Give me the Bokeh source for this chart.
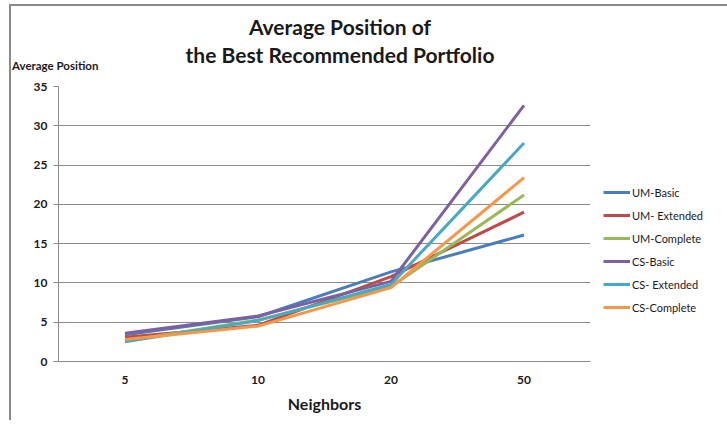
from bokeh.plotting import figure
from bokeh.layouts import column
from bokeh.models import FactorRange, Range1d, Legend, LegendItem, FixedTicker, Div
from bokeh.embed import file_html
from bokeh.resources import INLINE

# Number of neighbors (category axis)
neighbors = ["5", "10", "20", "50"]

# Average position of the best recommended portfolio per method
um_basic = [3.4, 5.7, 11.4, 16.1]
um_extended = [3.1, 4.6, 10.8, 19.0]
um_complete = [2.6, 5.3, 9.5, 21.2]
cs_basic = [3.6, 5.8, 10.2, 32.6]
cs_extended = [2.5, 5.2, 9.8, 27.8]
cs_complete = [2.8, 4.5, 9.4, 23.4]

series_names = ["UM-Basic", "UM- Extended", "UM-Complete", "CS-Basic", "CS- Extended", "CS-Complete"]
series_values = [um_basic, um_extended, um_complete, cs_basic, cs_extended, cs_complete]
series_colors = ["#4A7EBB", "#BE4B48", "#98B954", "#7D60A0", "#46AAC5", "#F79646"]

y_ticks = [0, 5, 10, 15, 20, 25, 30, 35]

title_lines = ["Average Position of", "the Best Recommended Portfolio"]
y_caption = "Average Position"

FONT = "Lato"
TEXT_COLOR = "#1a1a1a"

# header block: two-line title and the caption above the value axis
header_html = f"""
<div style="position:relative;width:716px;height:70px;font-family:{FONT};font-weight:bold;color:{TEXT_COLOR};">
  <div style="position:absolute;left:329px;top:21px;transform:translate(-50%,-50%);white-space:nowrap;font-size:21px;">{title_lines[0]}</div>
  <div style="position:absolute;left:329px;top:49px;transform:translate(-50%,-50%);white-space:nowrap;font-size:21px;">{title_lines[1]}</div>
  <div style="position:absolute;left:1px;top:60px;transform:translate(0,-50%);white-space:nowrap;font-size:11.5px;">{y_caption}</div>
</div>
"""
header = Div(text=header_html, width=716, height=70, margin=0)

p = figure(
    x_range=FactorRange(*neighbors, range_padding=0),
    y_range=Range1d(0, 35),
    frame_width=532, frame_height=275,
    min_border_left=47, min_border_right=137,
    min_border_top=10, min_border_bottom=59,
    output_backend="svg", toolbar_location=None,
    margin=0,
)
p.outline_line_color = None
p.background_fill_color = "white"
p.border_fill_color = "white"

# grid
p.xgrid.grid_line_color = None
p.ygrid.grid_line_color = "#8a8a8a"
p.ygrid.grid_line_width = 1
p.yaxis.ticker = FixedTicker(ticks=y_ticks)

# value axis
p.yaxis.axis_line_color = "#8a8a8a"
p.yaxis.major_tick_line_color = "#8a8a8a"
p.yaxis.major_tick_out = 5
p.yaxis.major_tick_in = 0
p.yaxis.minor_tick_line_color = None
p.yaxis.major_label_text_font = FONT
p.yaxis.major_label_text_font_style = "bold"
p.yaxis.major_label_text_font_size = "12px"
p.yaxis.major_label_text_color = TEXT_COLOR
p.yaxis.major_label_standoff = 6

# category axis
p.xaxis.axis_line_color = "#8a8a8a"
p.xaxis.major_tick_line_color = None
p.xaxis.minor_tick_line_color = None
p.xaxis.major_label_text_font = FONT
p.xaxis.major_label_text_font_style = "bold"
p.xaxis.major_label_text_font_size = "12px"
p.xaxis.major_label_text_color = TEXT_COLOR
p.xaxis.major_label_standoff = 8
p.xaxis.axis_label = "Neighbors"
p.xaxis.axis_label_text_font = FONT
p.xaxis.axis_label_text_font_style = "bold"
p.xaxis.axis_label_text_font_size = "16px"
p.xaxis.axis_label_text_color = TEXT_COLOR
p.xaxis.axis_label_standoff = 7

items = []
for name, vals, col in zip(series_names, series_values, series_colors):
    r = p.line(neighbors, vals, line_color=col, line_width=3)
    items.append(LegendItem(label=name, renderers=[r]))

legend = Legend(
    items=items,
    location=(13, 44),
    label_text_font=FONT,
    label_text_font_size="11px",
    label_text_color=TEXT_COLOR,
    glyph_width=27,
    glyph_height=20,
    spacing=3,
    label_standoff=2,
    padding=0,
    margin=0,
    border_line_color=None,
    background_fill_alpha=0,
)
p.add_layout(legend, "right")

layout = column(header, p, spacing=0)
layout.styles = {
    "margin-left": "9px",
    "margin-top": "4px",
    "border-left": "2px solid #8a8a8a",
    "border-top": "2px solid #8a8a8a",
}

open("out.html", "w").write(file_html(layout, INLINE))
